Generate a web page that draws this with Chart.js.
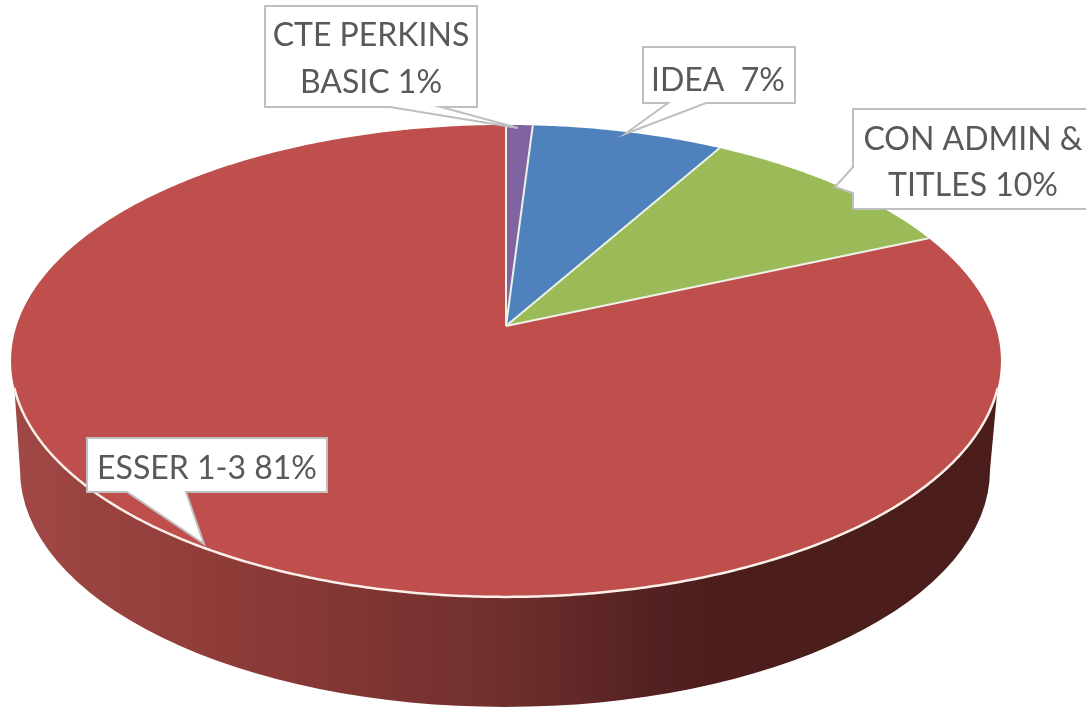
<!DOCTYPE html>
<html>
<head>
<meta charset="utf-8">
<script src="https://cdn.jsdelivr.net/npm/chart.js@4"></script>
<style>
html,body{margin:0;padding:0;background:#fff;overflow:hidden}
canvas{display:block}
</style>
</head>
<body>
<canvas id="c" width="1086" height="708"></canvas>
<script>
const categories = ["CTE PERKINS BASIC", "IDEA", "CON ADMIN & TITLES", "ESSER 1-3"];
const values = [1.0, 7.2, 10.2, 81.6];
const percentLabels = ["1%", "7%", "10%", "81%"];
const sliceColors = ["#8064A2", "#4F81BD", "#9BBB59", "#BE4F4C"];

// Perspective of the tilted disc
const disc = { cx: 506, cy: 326, a: 489.5, b: 230.8, k: 0.148 };
// Lower rim of the wall
const rim = { cx: 505, cy: 470, a: 485, b: 237 };
// Angle (from the horizontal) where the visible front edge of the disc begins
const edgeInset = 0.26;

// Callouts
const callouts = [
  { lines: ["CTE PERKINS", "BASIC 1%"], tx: 371, ty: [46, 93],
    path: [[265,6],[477,6],[477,107],[441,107],[518,128],[390,107],[265,107]] },
  { lines: ["IDEA  7%"], tx: 718, ty: [91],
    path: [[643,47],[795,47],[795,103],[706,103],[625,134],[668,103],[643,103]] },
  { lines: ["CON ADMIN &", "TITLES 10%"], tx: 973, ty: [150, 196],
    path: [[853,109],[1090,109],[1090,209],[853,209],[853,193],[835,187],[853,167]] },
  { lines: ["ESSER 1-3 81%"], tx: 207, ty: [479],
    path: [[87,438],[327,438],[327,492],[186,492],[204,544],[127,492],[87,492]] }
];

function project(angle) {
  const u = Math.cos(angle), v = -Math.sin(angle), w = 1 + disc.k * v;
  return [disc.cx + disc.a * u / w, disc.cy - disc.b * v / w];
}
function traceArc(ctx, start, end, moveFirst) {
  const n = Math.max(8, Math.ceil((end - start) * 120));
  for (let i = 0; i <= n; i++) {
    const p = project(start + (end - start) * i / n);
    if (i === 0 && moveFirst) ctx.moveTo(p[0], p[1]); else ctx.lineTo(p[0], p[1]);
  }
}

const pie3d = {
  id: "pie3d",
  beforeDatasetDraw(chart) {
    const ctx = chart.ctx;
    const meta = chart.getDatasetMeta(0);
    const left = project(Math.PI - edgeInset), right = project(edgeInset);
    ctx.save();
    // wall
    const g = ctx.createLinearGradient(10, 0, 1000, 0);
    g.addColorStop(0, "#A04845");
    g.addColorStop(0.25, "#8C3A37");
    g.addColorStop(0.5, "#6F2F2D");
    g.addColorStop(0.66, "#512020");
    g.addColorStop(0.72, "#4C1D1B");
    g.addColorStop(1, "#4A1D1B");
    ctx.beginPath();
    ctx.moveTo(left[0], left[1] - 2);
    ctx.lineTo(rim.cx - rim.a, rim.cy);
    ctx.ellipse(rim.cx, rim.cy, rim.a, rim.b, 0, Math.PI, 0, true);
    ctx.lineTo(right[0], right[1] - 2);
    ctx.closePath();
    ctx.fillStyle = g;
    ctx.fill();
    // slices
    meta.data.forEach((arc, i) => {
      ctx.beginPath();
      ctx.moveTo(disc.cx, disc.cy);
      traceArc(ctx, arc.startAngle, arc.endAngle, false);
      ctx.closePath();
      ctx.fillStyle = sliceColors[i];
      ctx.fill();
    });
    meta.data.forEach((arc) => {
      ctx.beginPath();
      ctx.moveTo(disc.cx, disc.cy);
      const p = project(arc.startAngle);
      ctx.lineTo(p[0], p[1]);
      ctx.strokeStyle = "#EEF1E6";
      ctx.lineWidth = 2;
      ctx.stroke();
    });
    // pale edge along the front of the disc
    ctx.beginPath();
    traceArc(ctx, edgeInset, Math.PI - edgeInset, true);
    ctx.strokeStyle = "#FBEFEA";
    ctx.lineWidth = 2.5;
    ctx.stroke();
    ctx.restore();
    return false;
  },
  afterDraw(chart) {
    const ctx = chart.ctx;
    ctx.save();
    callouts.forEach(c => {
      ctx.beginPath();
      c.path.forEach((p, i) => i ? ctx.lineTo(p[0], p[1]) : ctx.moveTo(p[0], p[1]));
      ctx.closePath();
      ctx.fillStyle = "#FFFFFF";
      ctx.fill();
      ctx.strokeStyle = "#BFBFBF";
      ctx.lineWidth = 2;
      ctx.stroke();
      ctx.fillStyle = "#595959";
      ctx.font = "32px Lato, sans-serif";
      ctx.textAlign = "center";
      ctx.textBaseline = "alphabetic";
      c.lines.forEach((t, i) => ctx.fillText(t, c.tx, c.ty[i]));
    });
    ctx.restore();
  }
};

new Chart(document.getElementById("c"), {
  type: "pie",
  data: { labels: categories, datasets: [{ data: values, backgroundColor: sliceColors, borderColor: "#FFFFFF" }] },
  options: {
    responsive: false,
    animation: false,
    rotation: 0,
    plugins: { legend: { display: false }, tooltip: { enabled: false } }
  },
  plugins: [pie3d]
});
</script>
</body>
</html>
